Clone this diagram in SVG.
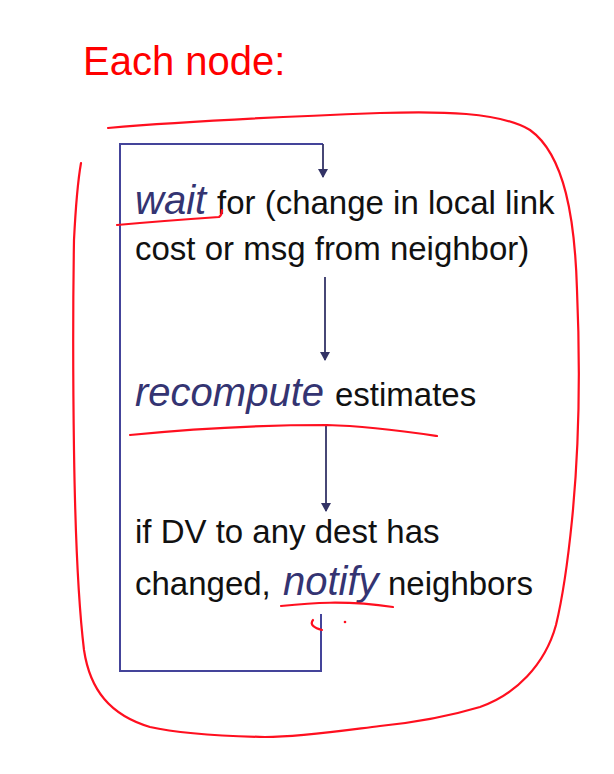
<svg xmlns="http://www.w3.org/2000/svg" width="614" height="774" viewBox="0 0 614 774">
<style>
text{font-family:"Liberation Sans",Arial,sans-serif;fill:#111}
.n{font-size:33px}
.em{font-size:40px;font-style:italic;fill:#343472}
.ttl{font-size:40px;fill:#ff0000}
.loop{fill:none;stroke:#44449a;stroke-width:2}
.arr{fill:none;stroke:#333366;stroke-width:1.8}
.ink{fill:none;stroke:#ff0f1f;stroke-width:2.2;stroke-linecap:round;stroke-linejoin:round}
</style>
<defs>
<marker id="ah" markerWidth="10" markerHeight="12" refX="8" refY="5" orient="auto" markerUnits="userSpaceOnUse">
<path d="M0,0 L9,5 L0,10 Z" fill="#333366"/>
</marker>
</defs>
<rect width="614" height="774" fill="#fff"/>
<text class="ttl" x="83" y="75">Each node:</text>
<g id="connectors">
<path class="loop" d="M323,144 H120 V671 H321 V614"/>
<path class="arr" d="M323,144 V177" marker-end="url(#ah)"/>
<path class="arr" d="M325,277 V360" marker-end="url(#ah)"/>
<path class="arr" d="M326,425 V511" marker-end="url(#ah)"/>
</g>
<g id="wait">
<text class="n" x="135" y="214"><tspan class="em">wait</tspan><tspan x="217">for (change in local link</tspan></text>
<text class="n" x="135" y="260">cost or msg from neighbor)</text>
</g>
<g id="recompute">
<text class="n" x="135" y="406"><tspan class="em">recompute</tspan><tspan x="335">estimates</tspan></text>
</g>
<g id="notify">
<text class="n" x="135" y="543">if DV to any dest has</text>
<text class="n" x="135" y="595">changed, <tspan class="em" x="283">notify</tspan><tspan x="388">neighbors</tspan></text>
</g>
<g id="annotations">
<path class="ink" d="M108,128 C200,120 300,116 380,113 C440,111 500,112 530,130 C565,155 575,220 577,290 C580,360 580,440 572,520 C568,560 562,600 556,625 C545,665 515,695 480,707 C450,716 420,722 380,726 C340,731 300,737 265,737 C220,736 180,734 150,727 C110,715 90,690 84,650 C78,600 75,520 74,450 C73,380 73,300 74,240 C76,200 78,180 81,163"/>
<path class="ink" d="M117,225 C150,222 190,219 219,217 C222,215 222,212 222,210"/>
<path class="ink" d="M130,435 C200,428 270,425 327,425 C370,426 410,432 437,436"/>
<path class="ink" d="M281,606 C310,603 345,600 393,607"/>
<path class="ink" d="M313,620 C309,625 315,628 322,630"/>
<circle cx="345" cy="622" r="1.3" fill="#ff0f1f"/>
</g>
</svg>
